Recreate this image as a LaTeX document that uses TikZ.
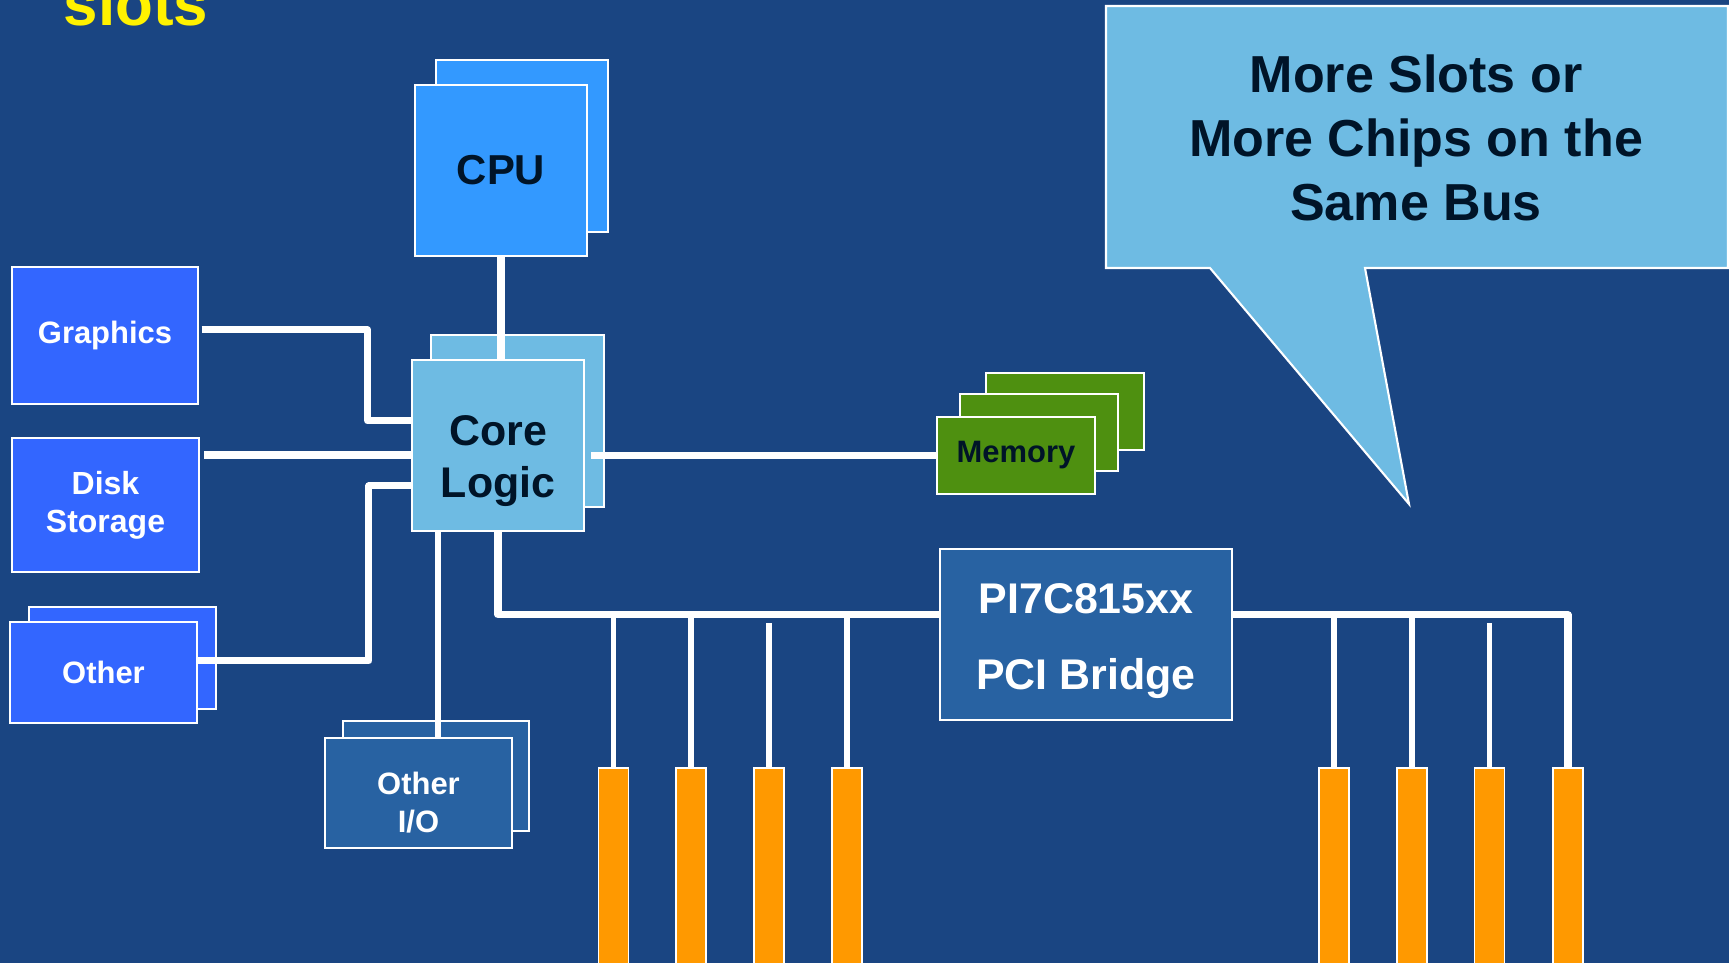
\documentclass[tikz,border=0pt]{standalone}
\usepackage{fontspec}
\setmainfont{Liberation Sans}
\definecolor{slidebg}{RGB}{26,69,130}
\definecolor{cpublue}{RGB}{51,153,255}
\definecolor{devblue}{RGB}{51,102,255}
\definecolor{coreblue}{RGB}{110,187,227}
\definecolor{pciblue}{RGB}{40,98,162}
\definecolor{memgreen}{RGB}{78,144,16}
\definecolor{slotorange}{RGB}{255,153,0}
\definecolor{inkdark}{RGB}{0,20,40}
\newcommand{\fsz}[2]{\fontsize{#1}{#2}\selectfont}
\tikzset{
  box/.style={draw=white, line width=0.7pt, inner sep=0pt, outer sep=0pt, align=center},
  wire/.style={draw=white, line width=2pt, line join=round},
  thinwire/.style={draw=white, line width=1.7pt},
  slot/.style={draw=white, fill=slotorange, line width=0.5pt, inner sep=0pt,
    minimum width=0.3cm, minimum height=2.4cm, anchor=north}
}
\begin{document}
\begin{tikzpicture}[x=0.01cm, y=-0.01cm]
\clip (0,0) rectangle (1729,963);
\fill[slidebg] (0,0) rectangle (1729,963);

% speech bubble
\draw[fill=coreblue, draw=white, line width=0.6pt] (1106,6) -- (1728,6) -- (1728,268) -- (1365,268)
  -- (1409,504) -- (1210,268) -- (1106,268) -- cycle;
\node[text=inkdark, align=center, font=\bfseries\fsz{14.8pt}{18.2pt}] (note) at (1416,138)
  {More Slots or\\More Chips on the\\Same Bus};

\node[anchor=base west, inner sep=0pt, text=yellow, font=\bfseries\fsz{17.6pt}{20pt}] (title) at (63,25) {slots};

% stacked boxes
\node[box, fill=cpublue, minimum width=1.72cm, minimum height=1.72cm] (cpuback) at (522,146) {};
\node[box, fill=cpublue, minimum width=1.72cm, minimum height=1.71cm, text=inkdark,
  font=\bfseries\fsz{11.9pt}{14pt}] (cpu) at (501,170.5) {CPU};
\node[box, fill=coreblue, minimum width=1.73cm, minimum height=1.72cm] (coreback) at (517.5,421) {};
\node[box, fill=coreblue, minimum width=1.72cm, minimum height=1.71cm, text=inkdark,
  font=\bfseries\fsz{12.2pt}{14.8pt}] (core) at (498,445.5) {\rule{0pt}{17.4pt}Core\\Logic};

\node[box, fill=devblue, minimum width=1.86cm, minimum height=1.37cm, text=white,
  font=\bfseries\fsz{8.8pt}{11pt}] (gfx) at (105,335.5) {Graphics};
\node[box, fill=devblue, minimum width=1.87cm, minimum height=1.34cm, text=white,
  font=\bfseries\fsz{9.1pt}{10.8pt}] (disk) at (105.5,505) {Disk\\Storage};
\node[box, fill=devblue, minimum width=1.87cm, minimum height=1.02cm] (otherback) at (122.5,658) {};
\node[box, fill=devblue, minimum width=1.87cm, minimum height=1.01cm, text=white,
  font=\bfseries\fsz{8.8pt}{11pt}] (other) at (103.5,672.5) {Other};

\node[box, fill=pciblue, minimum width=1.86cm, minimum height=1.10cm] (ioback) at (436,776) {};
\node[box, fill=pciblue, minimum width=1.87cm, minimum height=1.10cm, text=white,
  font=\bfseries\fsz{8.8pt}{11pt}] (io) at (418.5,793) {\rule{0pt}{11.8pt}Other\\I/O};

\node[box, fill=memgreen, minimum width=1.58cm, minimum height=0.77cm] (memback) at (1065,411.5) {};
\node[box, fill=memgreen, minimum width=1.58cm, minimum height=0.77cm] (memmid) at (1039,432.5) {};
\node[box, fill=memgreen, minimum width=1.58cm, minimum height=0.77cm, text=inkdark,
  font=\bfseries\fsz{8.8pt}{11pt}] (mem) at (1016,455.5) {Memory};

\node[box, fill=pciblue, minimum width=2.92cm, minimum height=1.71cm, text=white,
  font=\bfseries\fsz{12.2pt}{21.6pt}] (pci) at (1086,634.5) {\rule{0pt}{12.3pt}PI7C815xx\\PCI Bridge};

% slots
\foreach \x [count=\i] in {613.5,691,769,847}
  \node[slot] (s\i) at (\x,767) {};
\foreach \x [count=\i] in {1334,1412,1489.5,1568}
  \node[slot] (t\i) at (\x,767) {};

% wiring
\coordinate (gx) at ([shift={(1pt,1.6pt)}]gfx.east);
\coordinate (dk) at ([yshift=-2.7pt]core.west);
\coordinate (cm) at ([xshift=2pt]core.east);
\coordinate (cio) at ([xshift=-17pt]core.south);
\coordinate (bus) at ([yshift=5.6pt]pci.west);
\coordinate (bus3) at ([yshift=-2.4pt]bus);
\draw[wire] (cpu.south) -- (cpu.south |- core.north);
\draw[wire] (gx) -- ++(166,0) |- ([yshift=7pt]core.west);
\draw[wire] (dk) -- ([xshift=1.5pt]dk -| disk.east);
\draw[wire] ([yshift=-11.5pt]core.west) -- ++(-43,0) |- ([yshift=3.3pt]other.east);
\draw[wire] (cm |- mem.west) -- (mem.west);
\draw[thinwire] (cio) -- (cio |- io.north);
\draw[wire] (core.south) |- (bus);
\draw[wire] ([yshift=5.6pt]pci.east) -| (t4.north);
\foreach \s in {s1,s2,s4,t1,t2}
  \draw[thinwire] (\s.north) -- (\s.north |- bus);
\foreach \s in {s3,t3}
  \draw[thinwire] (\s.north) -- (\s.north |- bus3);
\end{tikzpicture}
\end{document}
